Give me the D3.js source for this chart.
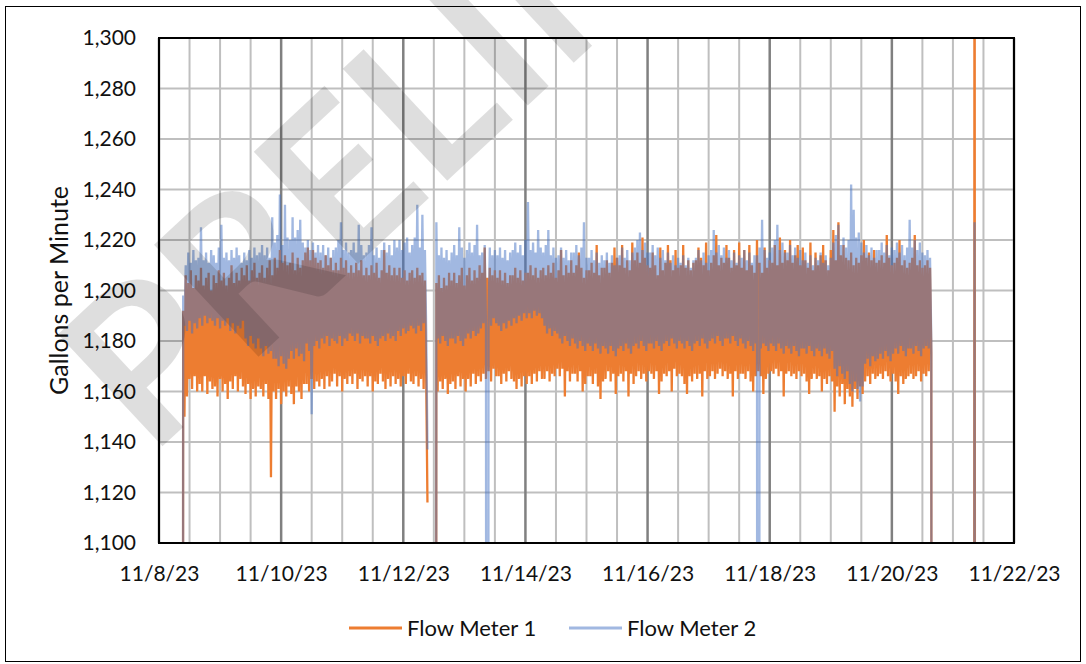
<!DOCTYPE html>
<html>
<head>
<meta charset="utf-8">
<script src="https://cdn.jsdelivr.net/npm/d3@7"></script>
<style>
  html, body { margin: 0; padding: 0; background: #fff; }
  svg { display: block; }
  text { font-family: "Lato", "Open Sans", sans-serif; }
</style>
</head>
<body>
<svg id="chart" width="1086" height="664"></svg>
<script>
// ---------------- DATA ----------------
const seriesNames = ["Flow Meter 1", "Flow Meter 2"];
const firstReading = "2023-11-08T09:00";   // first timestamp of the arrays
const readingStepMinutes = 30;             // spacing between readings
const yTicks = [1100, 1120, 1140, 1160, 1180, 1200, 1220, 1240, 1260, 1280, 1300];
const xTickLabels = ["2023-11-08", "2023-11-10", "2023-11-12", "2023-11-14", "2023-11-16", "2023-11-18", "2023-11-20", "2023-11-22"];
const xDomain = ["2023-11-08", "2023-11-22"];

const flowMeter1 = [
  0,
  1192,1150,1206,1158,1203,1165,1208,1161,1201,1166,1206,1160,
  1204,1163,1209,1160,1202,1166,1205,1159,1207,1164,1200,1161,
  1206,1162,1203,1158,1208,1165,1204,1160,1207,1163,1202,1157,
  1205,1164,1210,1161,1203,1166,1207,1160,1204,1165,1209,1162,
  1206,1159,1210,1163,1204,1157,1208,1161,1211,1158,1205,1162,
  1207,1161,1210,1158,1205,1163,1209,1157,1212,1126,1206,1160,
  1213,1157,1209,1161,1216,1155,1211,1160,1214,1158,1210,1162,
  1211,1159,1215,1155,1208,1162,1213,1160,1209,1157,1212,1163,
  1215,1163,1217,1160,1212,1165,1216,1161,1213,1164,1211,1162,
  1212,1165,1209,1161,1214,1166,1210,1162,1213,1164,1208,1167,
  1211,1162,1208,1166,1213,1160,1209,1165,1212,1163,1207,1166,
  1210,1163,1207,1167,1211,1161,1208,1165,1212,1164,1206,1166,
  1209,1162,1206,1166,1210,1160,1207,1164,1211,1163,1205,1167,
  1208,1164,1216,1161,1207,1165,1210,1162,1206,1166,1209,1163,
  1206,1165,1209,1162,1205,1166,1208,1163,1204,1167,1207,1164,
  1208,1163,1205,1166,1209,1162,1206,1165,1207,1161,1204,1166,
  1116,
  null,null,null,null,null,
  0,
  1203,1160,1206,1164,1201,1161,1205,1165,1202,1159,1207,1163,
  1204,1164,1207,1161,1203,1166,1206,1162,1209,1165,1202,1160,
  1206,1165,1209,1162,1204,1167,1208,1163,1205,1166,1210,1164,
  1207,1167,1217,1165,1205,1168,1209,1164,1206,1169,1208,1166,
  1205,1166,1208,1163,1204,1167,1207,1164,1203,1168,1206,1165,
  1206,1164,1209,1161,1205,1165,1208,1162,1204,1166,1207,1163,
  1207,1166,1210,1163,1206,1167,1209,1164,1205,1168,1208,1165,
  1209,1165,1206,1168,1210,1164,1207,1167,1211,1166,1205,1169,
  1208,1166,1216,1169,1206,1158,1210,1168,1207,1164,1212,1167,
  1207,1167,1210,1164,1215,1168,1209,1160,1205,1163,1208,1166,
  1208,1166,1211,1163,1207,1167,1218,1162,1206,1157,1209,1164,
  1209,1165,1212,1168,1207,1164,1211,1167,1217,1159,1213,1166,
  1210,1167,1218,1164,1209,1168,1212,1158,1208,1167,1219,1163,
  1212,1166,1215,1168,1211,1165,1221,1167,1213,1164,1210,1168,
  1209,1167,1215,1165,1210,1168,1206,1159,1217,1164,1208,1167,
  1211,1166,1218,1168,1212,1160,1208,1169,1216,1166,1209,1167,
  1210,1166,1218,1163,1209,1159,1212,1166,1208,1164,1211,1167,
  1212,1165,1217,1167,1213,1158,1210,1168,1219,1165,1208,1166,
  1211,1168,1214,1165,1222,1167,1210,1169,1213,1166,1211,1168,
  1218,1165,1213,1167,1209,1158,1216,1168,1210,1165,1219,1167,
  1209,1167,1216,1165,1208,1168,1218,1164,1210,1160,1207,1166,
  1220,1168,1211,1166,1207,1159,1217,1165,1209,1167,1212,1168,
  1211,1167,1218,1169,1210,1166,1221,1168,1211,1158,1216,1167,
  1212,1168,1220,1166,1211,1167,1214,1165,1218,1168,1210,1166,
  1217,1167,1212,1164,1209,1159,1219,1165,1208,1167,1215,1165,
  1210,1166,1214,1160,1218,1165,1212,1163,1208,1166,1216,1164,
  1224,1152,1212,1162,1227,1158,1214,1163,1218,1155,1213,1161,
  1212,1158,1215,1154,1210,1161,1213,1157,1211,1162,1214,1159,
  1220,1164,1213,1166,1215,1163,1212,1167,1216,1165,1211,1166,
  1212,1167,1214,1165,1211,1168,1222,1166,1213,1164,1210,1167,
  1211,1164,1213,1159,1220,1166,1210,1163,1212,1165,1209,1166,
  1211,1167,1213,1165,1222,1166,1210,1168,1212,1164,1209,1167,
  1210,1166,1212,1168,1209,1175,
  0,
  null,null,null,null,null,null,null,null,null,null,
  null,null,null,null,null,null,null,null,null,null,
  null,null,null,null,null,null,null,null,null,null,null,
  0,1480,0
];

const flowMeter2 = [
  0,
  1198,1186,1210,1184,1215,1188,1211,1183,1216,1187,1212,1185,
  1213,1189,1225,1186,1212,1190,1215,1187,1211,1189,1216,1188,
  1214,1186,1211,1189,1217,1185,1226,1188,1213,1186,1215,1189,
  1212,1184,1216,1187,1213,1183,1217,1186,1214,1185,1211,1188,
  1215,1181,1212,1178,1216,1182,1213,1179,1217,1177,1214,1181,
  1215,1177,1218,1174,1214,1178,1217,1175,1213,1176,1229,1173,
  1219,1173,1222,1170,1238,1174,1218,1171,1234,1169,1221,1173,
  1220,1176,1229,1173,1221,1177,1224,1174,1228,1175,1219,1172,
  1217,1179,1220,1176,1216,1151,1219,1178,1215,1180,1218,1177,
  1215,1181,1218,1179,1214,1182,1217,1178,1213,1181,1216,1180,
  1217,1179,1220,1182,1227,1178,1216,1181,1219,1180,1215,1183,
  1216,1182,1219,1180,1215,1183,1226,1179,1218,1182,1214,1181,
  1215,1181,1218,1179,1225,1182,1214,1180,1217,1178,1213,1181,
  1216,1182,1219,1180,1215,1183,1218,1181,1214,1182,1220,1180,
  1217,1184,1220,1182,1216,1185,1219,1183,1221,1184,1215,1186,
  1218,1185,1221,1183,1234,1186,1217,1184,1230,1187,1216,1185,
  1137,
  null,null,null,null,null,
  0,
  1227,1181,1214,1179,1217,1182,1213,1180,1216,1178,1212,1181,
  1215,1181,1218,1179,1214,1182,1225,1180,1217,1178,1213,1181,
  1216,1183,1219,1181,1215,1184,1218,1182,1226,1183,1214,1185,
  1215,1187,1218,1185,0,1188,1217,1186,1214,1189,1216,1187,
  1214,1186,1217,1184,1213,1187,1216,1185,1212,1188,1215,1186,
  1216,1189,1219,1187,1215,1190,1218,1188,1214,1191,1220,1189,
  1235,1191,1216,1189,1219,1192,1215,1190,1224,1191,1217,1189,
  1215,1186,1218,1183,1224,1185,1214,1182,1217,1184,1213,1183,
  1214,1181,1217,1179,1213,1182,1216,1180,1212,1178,1215,1181,
  1215,1179,1218,1177,1214,1180,1217,1178,1227,1176,1213,1179,
  1213,1178,1216,1176,1212,1179,1215,1177,1211,1175,1214,1178,
  1212,1177,1215,1175,1211,1178,1214,1176,1210,1174,1213,1177,
  1214,1178,1217,1176,1213,1179,1216,1177,1212,1175,1215,1178,
  1217,1179,1220,1177,1223,1180,1216,1178,1219,1176,1215,1179,
  1215,1179,1218,1177,1214,1180,1217,1178,1213,1176,1216,1179,
  1212,1180,1215,1178,1211,1181,1214,1179,1210,1177,1213,1180,
  1211,1179,1214,1177,1210,1180,1213,1178,1209,1176,1212,1179,
  1213,1180,1216,1178,1212,1181,1215,1179,1211,1177,1214,1180,
  1216,1181,1224,1179,1215,1182,1218,1180,1214,1178,1217,1181,
  1213,1181,1216,1179,1212,1182,1215,1180,1211,1178,1214,1181,
  1213,1179,1216,1177,1212,1180,1215,1178,1211,1176,1214,1179,
  1214,0,1217,1177,1228,1179,1216,1178,1213,1176,1215,1179,
  1217,1178,1220,1176,1226,1179,1216,1177,1219,1175,1215,1178,
  1215,1177,1218,1175,1214,1178,1217,1176,1213,1174,1216,1177,
  1212,1177,1215,1175,1211,1178,1214,1176,1210,1174,1213,1177,
  1212,1176,1215,1174,1211,1177,1214,1175,1210,1173,1213,1176,
  1219,1169,1222,1166,1226,1170,1218,1167,1221,1165,1217,1168,
  1220,1163,1242,1160,1232,1164,1221,1161,1223,1156,1219,1162,
  1215,1171,1218,1173,1214,1170,1217,1174,1213,1172,1216,1173,
  1216,1175,1219,1173,1215,1176,1218,1174,1214,1172,1217,1175,
  1216,1177,1219,1175,1215,1178,1218,1176,1214,1174,1217,1177,
  1228,1177,1217,1175,1220,1178,1216,1176,1219,1174,1215,1177,
  1214,1178,1216,1177,1213,1180,
  0,
  null,null,null,null,null,null,null,null,null,null,
  null,null,null,null,null,null,null,null,null,null,
  null,null,null,null,null,null,null,null,null,null,null,
  0,1227,0
];

const seriesColors = ["#ED7D31", "#4472C4"];

// ---------------- LAYOUT ----------------
const svg = d3.select("#chart");
const plot = { left: 159, right: 1014, top: 38, bottom: 543 };

const parseDay = d3.timeParse("%Y-%m-%d");
const parseStamp = d3.timeParse("%Y-%m-%dT%H:%M");
const t0 = parseStamp(firstReading);

const x = d3.scaleTime()
  .domain(xDomain.map(parseDay))
  .range([plot.left, plot.right]);
const y = d3.scaleLinear()
  .domain([yTicks[0], yTicks[yTicks.length - 1]])
  .range([plot.bottom, plot.top]);

// outer chart border
svg.append("rect")
  .attr("x", 5.5).attr("y", 6.5)
  .attr("width", 1075).attr("height", 655)
  .attr("fill", "#fff").attr("stroke", "#000").attr("stroke-width", 1);

// horizontal gridlines
svg.append("g").selectAll("line").data(yTicks).join("line")
  .attr("x1", plot.left).attr("x2", plot.right)
  .attr("y1", d => y(d)).attr("y2", d => y(d))
  .attr("stroke", "#bfbfbf").attr("stroke-width", 2);

// vertical gridlines: minor every 12 h, major every 2 days
const gridTimes = d3.timeHour.every(12).range(x.domain()[0], d3.timeHour.offset(x.domain()[1], 1));
const isMajor = d => Math.round((d - x.domain()[0]) / 3600000) % 48 === 0;
svg.append("g").selectAll("line").data(gridTimes).join("line")
  .attr("x1", d => x(d)).attr("x2", d => x(d))
  .attr("y1", plot.top).attr("y2", plot.bottom)
  .attr("stroke", d => isMajor(d) ? "#808080" : "#bfbfbf")
  .attr("stroke-width", d => isMajor(d) ? 2.5 : 2);

// clip
svg.append("clipPath").attr("id", "plotClip")
  .append("rect")
  .attr("x", plot.left).attr("y", plot.top)
  .attr("width", plot.right - plot.left).attr("height", plot.bottom - plot.top);

function toPoints(values) {
  return values.map((v, i) => ({ t: d3.timeMinute.offset(t0, i * readingStepMinutes), v }));
}
const line = d3.line()
  .defined(d => d.v !== null)
  .x(d => x(d.t))
  .y(d => y(d.v));

const dataG = svg.append("g").attr("clip-path", "url(#plotClip)");
dataG.append("path")
  .datum(toPoints(flowMeter1))
  .attr("d", line)
  .attr("fill", "none")
  .attr("stroke", seriesColors[0])
  .attr("stroke-width", 2.3)
  .attr("stroke-linejoin", "bevel");
dataG.append("path")
  .datum(toPoints(flowMeter2))
  .attr("d", line)
  .attr("fill", "none")
  .attr("stroke", seriesColors[1])
  .attr("stroke-opacity", 0.5)
  .attr("stroke-width", 2.3)
  .attr("stroke-linejoin", "bevel");

// plot border
svg.append("rect")
  .attr("x", plot.left).attr("y", plot.top)
  .attr("width", plot.right - plot.left).attr("height", plot.bottom - plot.top)
  .attr("fill", "none").attr("stroke", "#000").attr("stroke-width", 2);

// axes
const yAxis = svg.append("g")
  .attr("transform", `translate(${plot.left},0)`)
  .call(d3.axisLeft(y).tickValues(yTicks).tickSize(0).tickPadding(23).tickFormat(d3.format(",")));
yAxis.select(".domain").remove();
yAxis.selectAll("text").attr("font-size", 21).attr("fill", "#111").style("font-family", "Lato");

const xAxis = svg.append("g")
  .attr("transform", `translate(0,${plot.bottom})`)
  .call(d3.axisBottom(x).tickValues(xTickLabels.map(parseDay)).tickSize(0).tickPadding(23)
    .tickFormat(d3.timeFormat("%-m/%-d/%y")));
xAxis.select(".domain").remove();
xAxis.selectAll("text").attr("font-size", 21).attr("fill", "#111").style("font-family", "Lato");

// y title
svg.append("text")
  .attr("transform", `translate(68,${(plot.top + plot.bottom) / 2}) rotate(-90)`)
  .attr("text-anchor", "middle")
  .attr("font-size", 25).attr("fill", "#111")
  .text("Gallons per Minute");

// legend
const legendItems = [
  { name: seriesNames[0], color: seriesColors[0], opacity: 1, x: 349 },
  { name: seriesNames[1], color: seriesColors[1], opacity: 0.5, x: 569 }
];
const lg = svg.append("g").selectAll("g").data(legendItems).join("g")
  .attr("transform", d => `translate(${d.x},628)`);
lg.append("line").attr("x1", 0).attr("x2", 53).attr("y1", 0).attr("y2", 0)
  .attr("stroke", d => d.color).attr("stroke-opacity", d => d.opacity).attr("stroke-width", 3);
lg.append("text").attr("x", 58).attr("y", 8).attr("font-size", 22).attr("fill", "#111")
  .text(d => d.name);

// watermark
svg.append("text")
  .attr("transform", "translate(150,458) rotate(-43)")
  .attr("font-size", 212)
  .attr("font-weight", "bold")
  .attr("fill", "#000")
  .attr("fill-opacity", 0.13)
  .text("PRELIMINARY");
</script>
</body>
</html>
